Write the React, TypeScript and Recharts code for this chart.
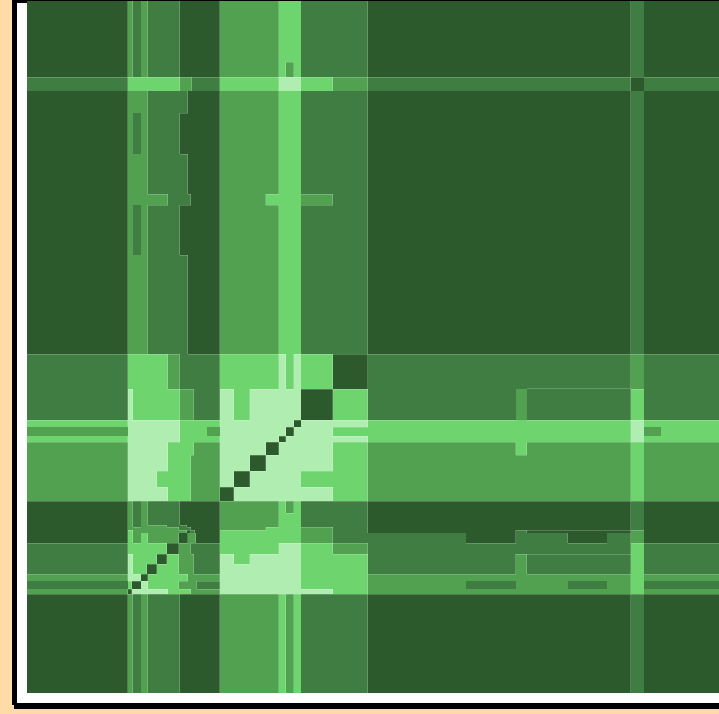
import { ReferenceArea, ReferenceLine, Scatter, ScatterChart, XAxis, YAxis } from 'recharts';

type Run = [number, number];

const levelColors = ['#2c5a2c', '#3f7d42', '#51a150', '#6dd46e', '#b0edb0'];
const gridSize = 692;

// right part shared by the quiet rows
const quietRight: Run[] = [[252, 2], [274, 3], [341, 1], [604, 0], [617, 1], [692, 0]];
const notchedRight: Run[] = [[252, 2], [259, 3], [267, 2], [274, 3], [341, 1], [604, 0], [617, 1], [692, 0]];
const solidLeft: Run[] = [[101, 0], [121, 2], [161, 1], [193, 0]];
const stripedLeft: Run[] = [[101, 0], [106, 2], [114, 1], [121, 2], [153, 1], [193, 0]];

// lower edge of every matrix row, with its [end column, level] runs
const rowEnds = [61, 76, 90, 112, 153, 193, 204, 254, 353, 388, 419, 426, 435, 441, 454, 470, 486, 500, 512, 524, 526, 529, 532, 542, 553, 563, 573, 580, 588, 593, 692];
const rowRuns: Run[][] = [
  [...stripedLeft, ...quietRight],
  [...stripedLeft, ...notchedRight],
  [[101, 1], [153, 3], [165, 2], [193, 1], [252, 3], [274, 4], [306, 3], [341, 2], [604, 1], [617, 0], [692, 1]],
  [...solidLeft, ...quietRight],
  [...stripedLeft, ...quietRight],
  [...solidLeft, ...quietRight],
  [[101, 0], [141, 2], [164, 1], [193, 0], [239, 2], [274, 3], [306, 2], [341, 1], [604, 0], [617, 1], [692, 0]],
  [...stripedLeft, ...quietRight],
  [...solidLeft, ...quietRight],
  [[101, 1], [141, 3], [153, 2], [193, 1], [252, 3], [259, 4], [267, 3], [274, 4], [306, 3], [341, 0], [604, 1], [617, 2], [692, 1]],
  [[101, 1], [106, 4], [153, 3], [167, 2], [193, 1], [207, 4], [223, 3], [274, 4], [306, 0], [341, 3], [489, 1], [500, 2], [604, 1], [617, 3], [692, 1]],
  [[101, 3], [153, 4], [193, 3], [267, 4], [274, 0], [341, 4], [604, 3], [617, 4], [692, 3]],
  [[101, 2], [153, 4], [180, 3], [193, 2], [259, 4], [267, 0], [306, 4], [341, 3], [604, 3], [617, 4], [634, 2], [692, 3]],
  [[101, 3], [153, 4], [193, 3], [252, 4], [259, 0], [341, 4], [604, 3], [617, 4], [692, 3]],
  [[101, 2], [141, 4], [167, 3], [193, 2], [239, 4], [252, 0], [306, 4], [341, 3], [489, 2], [500, 3], [604, 2], [617, 3], [692, 2]],
  [[101, 2], [141, 4], [164, 3], [193, 2], [223, 4], [239, 0], [306, 4], [341, 3], [604, 2], [617, 3], [692, 2]],
  [[101, 2], [130, 4], [164, 3], [193, 2], [207, 4], [223, 0], [274, 4], [341, 3], [604, 2], [617, 3], [692, 2]],
  [[101, 2], [141, 4], [164, 3], [193, 2], [207, 0], [306, 4], [341, 3], [604, 2], [617, 3], [692, 2]],
  [...stripedLeft, ...notchedRight],
  [...stripedLeft, ...quietRight],
  [[101, 0], [106, 2], [114, 1], [140, 2], [160, 1], [193, 0], ...quietRight],
  [[101, 0], [152, 2], [164, 1], [193, 0], [239, 2], [274, 3], [306, 2], [341, 1], [604, 0], [617, 1], [692, 0]],
  [[101, 0], [106, 3], [160, 2], [164, 0], [168, 1], [193, 0], [274, 3], [306, 2], [341, 1], [489, 0], [500, 1], [604, 0], [617, 2], [692, 0]],
  [[101, 0], [106, 3], [114, 2], [121, 3], [152, 2], [161, 0], [169, 2], [193, 0], [274, 3], [306, 2], [439, 1], [489, 0], [541, 1], [580, 0], [604, 1], [617, 2], [692, 0]],
  [[101, 1], [140, 3], [152, 0], [164, 2], [193, 1], [252, 3], [274, 4], [306, 3], [341, 2], [604, 1], [617, 3], [692, 1]],
  [[101, 1], [106, 4], [130, 3], [140, 0], [152, 3], [167, 2], [193, 1], [207, 4], [223, 3], [274, 4], [341, 3], [489, 1], [500, 2], [604, 1], [617, 3], [692, 1]],
  [[101, 1], [106, 4], [120, 3], [130, 0], [152, 3], [167, 2], [193, 1], [274, 4], [341, 3], [489, 1], [500, 2], [604, 1], [617, 3], [692, 1]],
  [[101, 2], [114, 4], [121, 0], [161, 3], [193, 2], [274, 4], [341, 3], [604, 2], [617, 3], [692, 2]],
  [[101, 1], [105, 3], [114, 0], [121, 4], [152, 3], [170, 2], [193, 1], [274, 4], [341, 3], [439, 2], [489, 1], [541, 2], [580, 1], [604, 2], [617, 3], [692, 1]],
  [[101, 2], [105, 0], [141, 4], [164, 3], [193, 2], [306, 4], [341, 3], [604, 2], [617, 3], [692, 2]],
  [...stripedLeft, ...notchedRight],
];

// edges drawn without the pale contour
const plainColumns = [114, 274, 439, 580, 617];
const plainRows = [90, 532];
// [x1, x2, y1, y2] blocks whose outline is not drawn
const plainBlocks = [
  [106, 114, 112, 153],
  [106, 114, 204, 254],
  [0, 101, 426, 435],
  [180, 193, 426, 435],
  [489, 500, 388, 419],
  [617, 634, 426, 435],
  [0, 101, 580, 588],
  [439, 489, 580, 588],
  [541, 580, 580, 588],
  [617, 692, 580, 588],
];
// contours between cells of the same level
const extraContours = [
  { x1: 500, x2: 604, y1: 387, y2: 387 },
  { x1: 500, x2: 604, y1: 529, y2: 529 },
  { x1: 500, x2: 604, y1: 553, y2: 553 },
];

const levelAt = (row: number, col: number) => rowRuns[row].find(([end]) => col < end)![1];

function buildCells() {
  return rowRuns.flatMap((runs, r) => {
    const top = r === 0 ? 0 : rowEnds[r - 1];
    return runs.map(([end, level], i) => ({
      x1: i === 0 ? 0 : runs[i - 1][0],
      x2: end,
      y1: top,
      y2: rowEnds[r],
      level,
    }));
  });
}

function inPlainBlock(x: number, y: number) {
  return plainBlocks.some(([x1, x2, y1, y2]) => x >= x1 && x <= x2 && y >= y1 && y <= y2);
}

function buildContours() {
  const cols = [...new Set(rowRuns.flat().map(([end]) => end))].sort((a, b) => a - b);
  const segs: { x1: number; x2: number; y1: number; y2: number }[] = [];
  // vertical contours
  for (const c of cols) {
    if (c === gridSize || plainColumns.includes(c)) continue;
    let open: number | null = null;
    rowEnds.forEach((end, r) => {
      const top = r === 0 ? 0 : rowEnds[r - 1];
      const differs = levelAt(r, c - 1) !== levelAt(r, c) && !inPlainBlock(c, (top + end) / 2);
      if (differs && open === null) open = top;
      if (!differs && open !== null) {
        segs.push({ x1: c, x2: c, y1: open, y2: top });
        open = null;
      }
      if (r === rowEnds.length - 1 && open !== null) segs.push({ x1: c, x2: c, y1: open, y2: end });
    });
  }
  // horizontal contours
  rowEnds.slice(0, -1).forEach((y, r) => {
    if (plainRows.includes(y)) return;
    let open: number | null = null;
    let prev = 0;
    for (const c of cols) {
      const differs = levelAt(r, prev) !== levelAt(r + 1, prev) && !inPlainBlock((prev + c) / 2, y);
      if (differs && open === null) open = prev;
      if (!differs && open !== null) {
        segs.push({ x1: open, x2: prev, y1: y, y2: y });
        open = null;
      }
      prev = c;
    }
    if (open !== null) segs.push({ x1: open, x2: gridSize, y1: y, y2: y });
  });
  return [...segs, ...extraContours];
}

const cells = buildCells();
const contours = buildContours();
const centres = cells.map((c) => ({ x: (c.x1 + c.x2) / 2, y: (c.y1 + c.y2) / 2 }));

export default function App() {
  return (
    <div style={{ position: 'fixed', left: 0, top: 0, width: 719, height: 714, overflow: 'hidden', background: '#ffdba8' }}>
      <div style={{ position: 'absolute', left: 12, top: 0, width: 720, height: 705, background: '#000' }} />
      <div style={{ position: 'absolute', left: 14, top: 704, width: 720, height: 5, background: '#000' }} />
      <div style={{ position: 'absolute', left: 17, top: 3, width: 720, height: 700, background: '#fff' }} />
      <div style={{ position: 'absolute', left: 0, top: 0 }}>
        <ScatterChart width={719} height={714} margin={{ top: 1, right: 0, bottom: 21, left: 26.6 }}>
          <XAxis type="number" dataKey="x" domain={[0, gridSize]} hide />
          <YAxis type="number" dataKey="y" domain={[0, gridSize]} reversed hide />
          <Scatter data={centres} isAnimationActive={false} shape={() => null} />
          {cells.map((c, i) => (
            <ReferenceArea key={i} x1={c.x1} x2={c.x2} y1={c.y1} y2={c.y2} fill={levelColors[c.level]} fillOpacity={1} stroke="none" shapeRendering="crispEdges" />
          ))}
          {contours.map((s, i) => (
            <ReferenceLine key={i} segment={[{ x: s.x1, y: s.y1 }, { x: s.x2, y: s.y2 }]} stroke="#fff" strokeOpacity={0.2} strokeWidth={1} shapeRendering="crispEdges" />
          ))}
        </ScatterChart>
      </div>
    </div>
  );
}
